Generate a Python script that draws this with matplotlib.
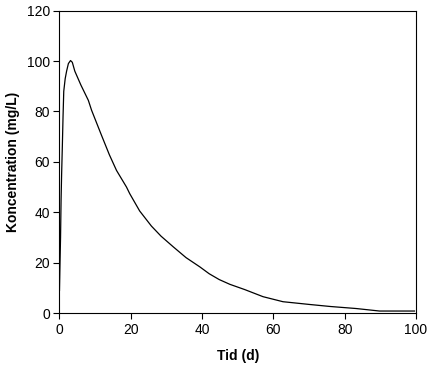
import matplotlib
matplotlib.use("Agg")
import matplotlib.pyplot as plt

# values
tid = [0, 0.15, 0.3, 0.45, 0.6, 0.8, 1.0, 1.2, 1.6, 2.0, 2.5, 3.1, 3.6, 4.3, 6.0,
       8.1, 9.0, 11.8, 14.0, 16.0, 18.8, 19.7, 22.5, 25.8, 28.5, 31.9, 35.5,
       39.4, 42.0, 44.8, 47.8, 52.0, 57.1, 62.7, 70.2, 76.0, 83.2, 89.8, 95.0, 99.6]
konc = [9, 20, 30, 45, 55, 66, 78, 88, 93, 96, 99, 100.2, 99.5, 96, 90.5,
        84.4, 80.5, 70.5, 62.8, 56.6, 50, 47.4, 40.5, 34.5, 30.5, 26.3, 22.0,
        18.3, 15.6, 13.3, 11.4, 9.3, 6.5, 4.5, 3.4, 2.6, 1.8, 0.8, 0.8, 0.8]

plt.rcParams['font.family'] = ['Liberation Sans', 'DejaVu Sans']

fig = plt.figure(figsize=(4.31, 3.67), dpi=100)
ax = fig.add_axes([0.138, 0.147, 0.827, 0.824])

ax.plot(tid, konc, color='black', linewidth=0.9)

ax.set_xlim(0, 100)
ax.set_ylim(0, 120)
ax.set_xticks(range(0, 101, 20))
ax.set_yticks(range(0, 121, 20))
ax.tick_params(direction='out', length=4, width=0.8, labelsize=10, pad=3)
for s in ax.spines.values():
    s.set_linewidth(0.8)

ax.set_xlabel('Tid (d)', fontsize=10, fontweight='bold', labelpad=9)
ax.set_ylabel('Koncentration (mg/L)', fontsize=10, fontweight='bold', labelpad=5)

fig.savefig('out.png', dpi=100)
